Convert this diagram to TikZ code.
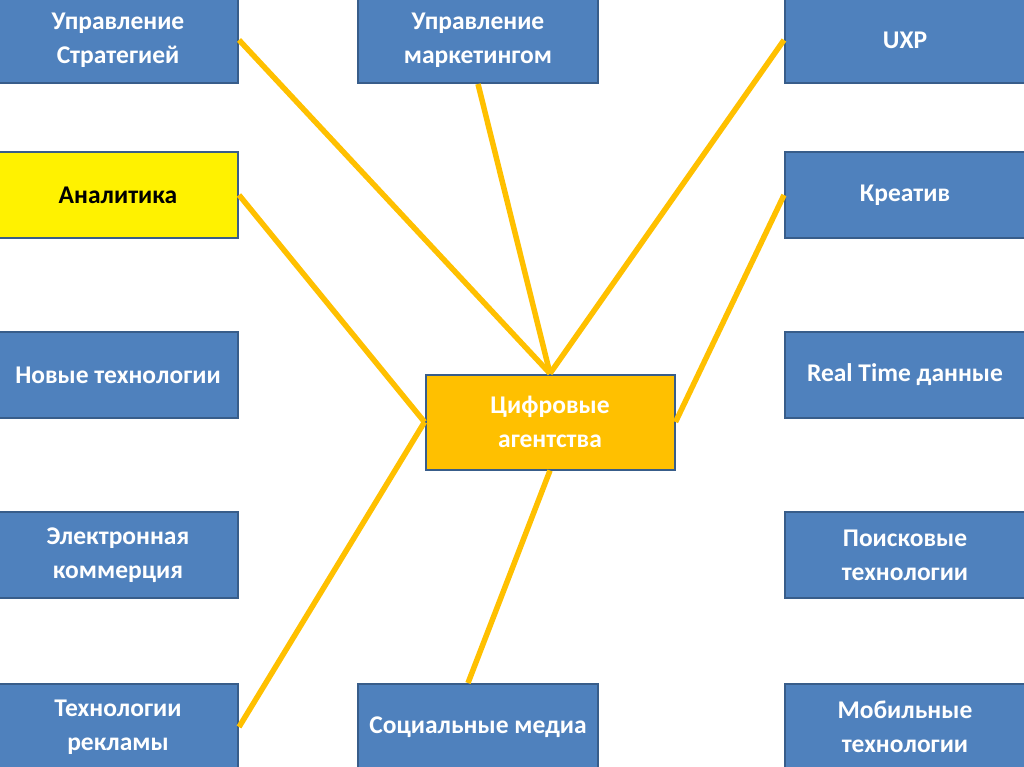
\documentclass[tikz,border=0pt]{standalone}
\usepackage{fontspec}
\setmainfont{Carlito}
\definecolor{boxblue}{HTML}{4F81BD}
\definecolor{boxedge}{HTML}{385D8A}
\definecolor{linkc}{HTML}{FFC000}
\begin{document}
\begin{tikzpicture}[x=1pt,y=-1pt,
  box/.style={draw=boxedge, line width=2pt, fill=boxblue, text=white,
    minimum width=240pt, minimum height=86pt, align=center,
    font=\fontsize{25.5}{34}\selectfont\bfseries, inner sep=0pt},
  hub/.style={box, fill=linkc, minimum width=249pt, minimum height=95pt},
  link/.style={draw=linkc, line width=5.5pt}]
\useasboundingbox (0,0) rectangle (1024,767);
\clip (0,0) rectangle (1024,767);
% left column
\node[box] (strat) at (118,40) {Управление\\Стратегией};
\node[box, fill=yellow, text=black] (anal) at (118,195) {Аналитика};
\node[box] (newt) at (118,375) {Новые технологии};
\node[box] (ecom) at (118,555) {Электронная\\коммерция};
\node[box] (ads) at (118,727) {Технологии\\рекламы};
% middle column
\node[box] (mark) at (478,40) {Управление\\маркетингом};
\node[box] (soc) at (478,727) {Социальные медиа};
% right column
\node[box] (uxp) at (905,40) {UXP};
\node[box] (crea) at (905,195) {Креатив};
\node[box] (rt) at (905,375) {Real Time данные};
\node[box] (srch) at (905,555) {Поисковые\\технологии};
\node[box] (mob) at (905,727) {Мобильные\\технологии};
% hub
\node[hub] (hubn) at (550,422) {Цифровые\\агентства};
% connectors
\draw[link] (strat.east) -- (hubn.north);
\draw[link] (mark.south) -- (hubn.north);
\draw[link] (uxp.west) -- (hubn.north);
\draw[link] (anal.east) -- (hubn.west);
\draw[link] (ads.east) -- (hubn.west);
\draw[link] (crea.west) -- (hubn.east);
\draw[link] (hubn.south) -- ([xshift=-10pt]soc.north);
\end{tikzpicture}
\end{document}
